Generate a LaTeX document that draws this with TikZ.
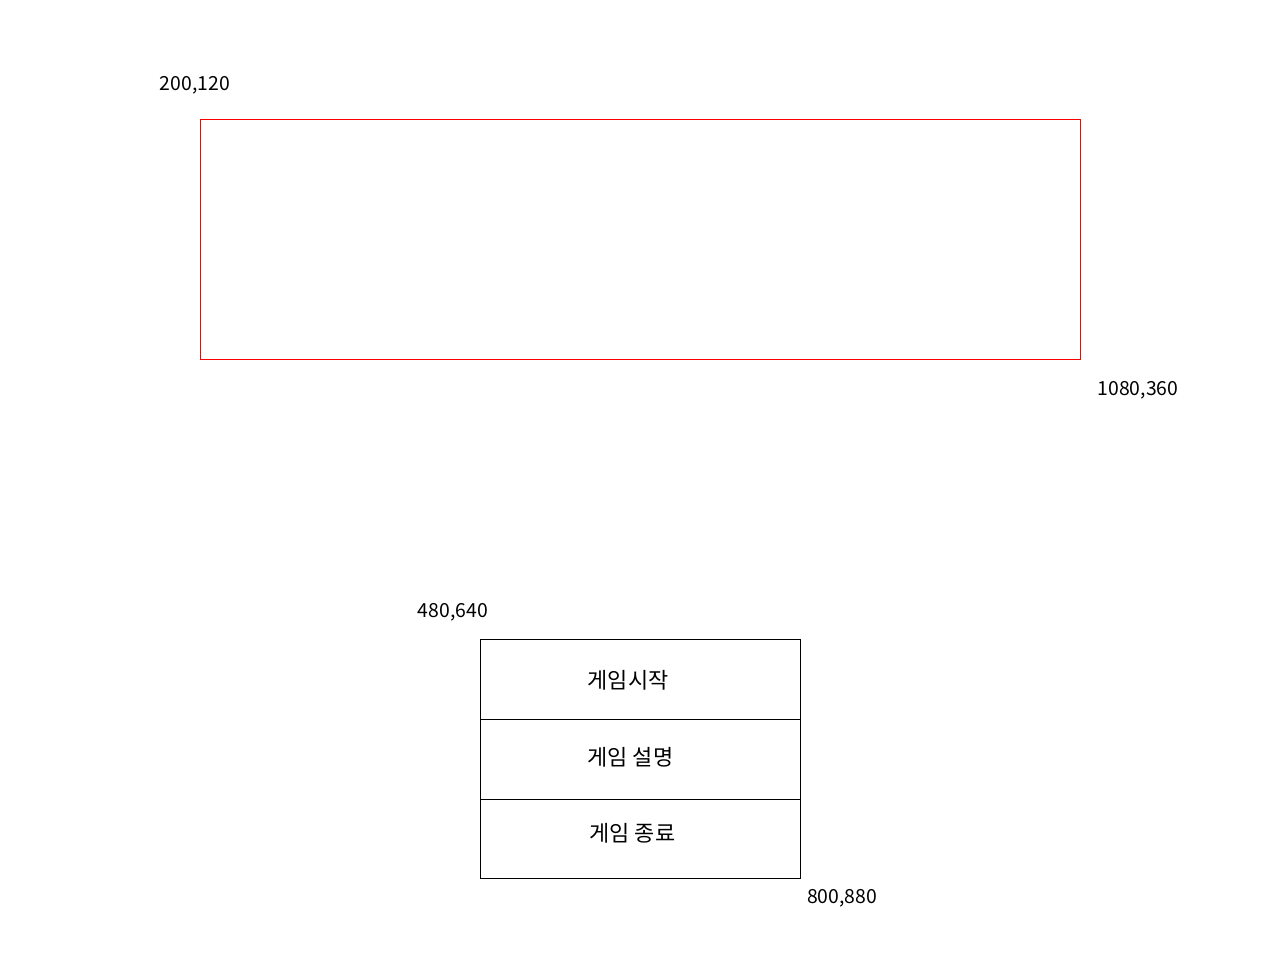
\documentclass[tikz,border=0pt]{standalone}
\usepackage{fontspec}
\setmainfont{Noto Sans CJK KR}

\tikzset{
  corner/.style={font=\fontsize{13.8}{16}\selectfont, inner sep=0pt},
  menu/.style={font=\fontsize{15.6}{18}\selectfont, inner sep=0pt}
}

\begin{document}
\begin{tikzpicture}[x=0.025cm, y=-0.025cm]
  \useasboundingbox (0,0) rectangle (1280,960);

  % screen area
  \draw[red, line width=0.7pt] (200.5,119.5) rectangle (1080.5,359.5);
  \node[corner] (tl) at (195,85) {200,120};
  \node[corner] (br) at (1138,390) {1080,360};

  % menu
  \draw[line width=0.7pt]
       (480.5,639.5) rectangle (800.5,878.5)
       (480.5,719.5)--(800.5,719.5) (480.5,799.5)--(800.5,799.5);
  \node[menu] (start) at (628,680) {게임시작};
  \node[menu] (help)  at (630.5,757) {게임 설명};
  \node[menu] (quit)  at (632.5,833) {게임 종료};

  \node[corner] (mtl) at (453,612) {480,640};
  \node[corner] (mbr) at (842,898) {800,880};
\end{tikzpicture}
\end{document}
